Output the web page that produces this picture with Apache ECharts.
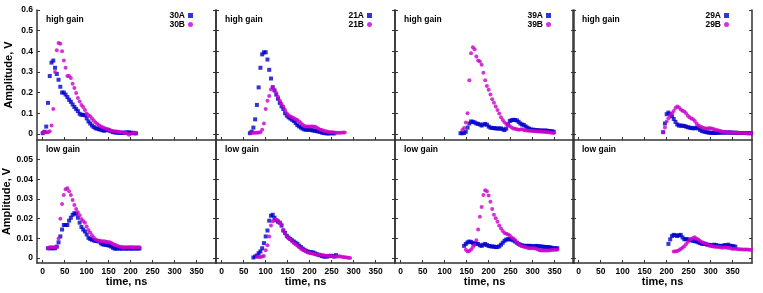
<!DOCTYPE html>
<html><head><meta charset="utf-8">
<script src="https://cdn.jsdelivr.net/npm/echarts@6/dist/echarts.min.js"></script>
<style>html,body{margin:0;padding:0;background:#fff}#c{width:763px;height:293px}</style>
</head><body><div id="c"></div>
<script>
// ---- tick labels ----
const xTicks = [0,50,100,150,200,250,300,350];
const yTicksHi = [0,0.1,0.2,0.3,0.4,0.5,0.6];
const yTicksLo = [0,0.01,0.02,0.03,0.04,0.05];
const channels = [['30A','30B'],['21A','21B'],['39A','39B'],['29A','29B']];

// ---- sample times (ns) ----
const T_0_212 = [0,4,8,12,16,20,24,28,32,36,40,44,48,52,56,60,64,68,72,76,80,84,88,92,96,100,104,108,112,116,120,124,128,132,136,140,144,148,152,156,160,164,168,172,176,180,184,188,192,196,200,204,208,212];
const T_64_256 = [64,68,72,76,80,84,88,92,96,100,104,108,112,116,120,124,128,132,136,140,144,148,152,156,160,164,168,172,176,180,184,188,192,196,200,204,208,212,216,220,224,228,232,236,240,244,248,252,256];
const T_68_280 = [68,72,76,80,84,88,92,96,100,104,108,112,116,120,124,128,132,136,140,144,148,152,156,160,164,168,172,176,180,184,188,192,196,200,204,208,212,216,220,224,228,232,236,240,244,248,252,256,260,264,268,272,276,280];
const T_136_348 = [136,140,144,148,152,156,160,164,168,172,176,180,184,188,192,196,200,204,208,212,216,220,224,228,232,236,240,244,248,252,256,260,264,268,272,276,280,284,288,292,296,300,304,308,312,316,320,324,328,332,336,340,344,348];
const T_140_348 = [140,144,148,152,156,160,164,168,172,176,180,184,188,192,196,200,204,208,212,216,220,224,228,232,236,240,244,248,252,256,260,264,268,272,276,280,284,288,292,296,300,304,308,312,316,320,324,328,332,336,340,344,348];
const T_192_392 = [192,196,200,204,208,212,216,220,224,228,232,236,240,244,248,252,256,260,264,268,272,276,280,284,288,292,296,300,304,308,312,316,320,324,328,332,336,340,344,348,352,356,360,364,368,372,376,380,384,388,392];
const T_12_220 = [12,16,20,24,28,32,36,40,44,48,52,56,60,64,68,72,76,80,84,88,92,96,100,104,108,112,116,120,124,128,132,136,140,144,148,152,156,160,164,168,172,176,180,184,188,192,196,200,204,208,212,216,220];
const T_72_260 = [72,76,80,84,88,92,96,100,104,108,112,116,120,124,128,132,136,140,144,148,152,156,160,164,168,172,176,180,184,188,192,196,200,204,208,212,216,220,224,228,232,236,240,244,248,252,256,260];
const T_80_292 = [80,84,88,92,96,100,104,108,112,116,120,124,128,132,136,140,144,148,152,156,160,164,168,172,176,180,184,188,192,196,200,204,208,212,216,220,224,228,232,236,240,244,248,252,256,260,264,268,272,276,280,284,288,292];
const T_144_356 = [144,148,152,156,160,164,168,172,176,180,184,188,192,196,200,204,208,212,216,220,224,228,232,236,240,244,248,252,256,260,264,268,272,276,280,284,288,292,296,300,304,308,312,316,320,324,328,332,336,340,344,348,352,356];
const T_148_356 = [148,152,156,160,164,168,172,176,180,184,188,192,196,200,204,208,212,216,220,224,228,232,236,240,244,248,252,256,260,264,268,272,276,280,284,288,292,296,300,304,308,312,316,320,324,328,332,336,340,344,348,352,356];
const T_204_356 = [204,208,212,216,220,224,228,232,236,240,244,248,252,256,260,264,268,272,276,280,284,288,292,296,300,304,308,312,316,320,324,328,332,336,340,344,348,352,356];
const T_216_392 = [216,220,224,228,232,236,240,244,248,252,256,260,264,268,272,276,280,284,288,292,296,300,304,308,312,316,320,324,328,332,336,340,344,348,352,356,360,364,368,372,376,380,384,388,392];

// ---- amplitudes (V), high gain ----
const A30_hi = [0.003,0.01,0.035,0.15,0.28,0.345,0.355,0.32,0.29,0.262,0.228,0.2,0.2,0.19,0.178,0.165,0.155,0.142,0.13,0.12,0.11,0.097,0.092,0.092,0.09,0.075,0.06,0.05,0.04,0.033,0.027,0.025,0.022,0.02,0.017,0.015,0.018,0.02,0.015,0.012,0.008,0.007,0.006,0.005,0.005,0.004,0.005,0.006,0.007,0.006,0.006,0.004,0.003,0.002];
const B30_hi = [0.005,0.006,0.007,0.008,0.012,0.04,0.12,0.3,0.405,0.44,0.437,0.4,0.355,0.32,0.28,0.28,0.27,0.243,0.222,0.198,0.174,0.157,0.14,0.13,0.115,0.098,0.09,0.085,0.074,0.064,0.055,0.048,0.041,0.036,0.032,0.028,0.024,0.021,0.018,0.015,0.013,0.012,0.011,0.01,0.008,0.007,0.006,0.005,0.002,-0.004,0.0,0.003,0.006,0.004];
const A21_hi = [0.003,0.01,0.03,0.07,0.14,0.225,0.32,0.385,0.395,0.395,0.36,0.31,0.268,0.226,0.21,0.19,0.17,0.15,0.133,0.12,0.1,0.088,0.08,0.074,0.068,0.062,0.052,0.042,0.036,0.03,0.025,0.021,0.02,0.02,0.02,0.018,0.016,0.015,0.013,0.011,0.009,0.006,0.004,0.003,0.002,0.002,0.003,0.003,0.002];
const B21_hi = [0.004,0.005,0.005,0.005,0.006,0.008,0.02,0.05,0.12,0.16,0.183,0.215,0.225,0.212,0.198,0.18,0.162,0.146,0.132,0.115,0.1,0.09,0.084,0.08,0.075,0.071,0.067,0.06,0.052,0.044,0.038,0.036,0.035,0.035,0.035,0.035,0.034,0.03,0.025,0.02,0.018,0.015,0.013,0.011,0.009,0.008,0.007,0.006,0.005,0.005,0.005,0.005,0.006,0.006];
const A39_hi = [0.003,0.003,0.004,0.01,0.03,0.05,0.06,0.058,0.055,0.05,0.048,0.045,0.04,0.045,0.048,0.044,0.035,0.03,0.028,0.028,0.026,0.026,0.025,0.026,0.022,0.018,0.025,0.045,0.062,0.066,0.068,0.067,0.065,0.058,0.05,0.045,0.043,0.036,0.03,0.025,0.021,0.02,0.019,0.018,0.017,0.016,0.016,0.015,0.016,0.015,0.014,0.013,0.012,0.01];
const B39_hi = [0.019,0.028,0.055,0.1,0.26,0.39,0.42,0.41,0.375,0.355,0.35,0.335,0.296,0.26,0.232,0.213,0.19,0.167,0.15,0.132,0.115,0.098,0.08,0.067,0.056,0.048,0.043,0.038,0.031,0.026,0.024,0.022,0.02,0.021,0.022,0.018,0.016,0.016,0.015,0.015,0.014,0.013,0.012,0.011,0.011,0.01,0.01,0.009,0.008,0.007,0.006,0.005,0.004];
const A29_hi = [0.008,0.05,0.095,0.103,0.095,0.085,0.072,0.058,0.045,0.04,0.04,0.039,0.038,0.035,0.032,0.03,0.028,0.027,0.027,0.03,0.026,0.019,0.014,0.011,0.009,0.007,0.006,0.005,0.004,0.004,0.004,0.005,0.005,0.006,0.006,0.006,0.006,0.006,0.006,0.006,0.005,0.005,0.005,0.004,0.004,0.004,0.004,0.004,0.003,0.003,0.003];
const B29_hi = [0.008,0.03,0.06,0.076,0.09,0.1,0.11,0.125,0.132,0.128,0.118,0.112,0.108,0.1,0.088,0.08,0.074,0.07,0.062,0.05,0.04,0.035,0.032,0.028,0.026,0.026,0.027,0.027,0.024,0.022,0.019,0.017,0.015,0.012,0.01,0.009,0.008,0.007,0.006,0.006,0.005,0.005,0.005,0.004,0.004,0.004,0.004,0.004,0.003,0.003,0.003];

// ---- amplitudes (V), low gain ----
const A30_lo = [0.005,0.005,0.005,0.005,0.005,0.0058,0.008,0.011,0.0145,0.0168,0.0168,0.0168,0.019,0.0205,0.022,0.0228,0.0225,0.0205,0.018,0.0158,0.0145,0.0135,0.012,0.0103,0.0097,0.0093,0.009,0.0087,0.0086,0.0085,0.0075,0.007,0.0068,0.0067,0.0065,0.0063,0.0058,0.0052,0.0048,0.0048,0.005,0.0048,0.0048,0.005,0.0048,0.0048,0.005,0.0048,0.0048,0.005,0.0048,0.005,0.0048];
const B30_lo = [0.005,0.0055,0.0055,0.0055,0.0055,0.0058,0.01,0.02,0.0275,0.032,0.035,0.0355,0.034,0.032,0.0295,0.027,0.025,0.0233,0.0218,0.0198,0.0188,0.018,0.016,0.0143,0.013,0.0116,0.0105,0.0095,0.009,0.0087,0.0086,0.0086,0.0085,0.0083,0.0082,0.008,0.0076,0.0072,0.0068,0.0064,0.006,0.0058,0.0056,0.0055,0.0055,0.0055,0.0055,0.0056,0.0055,0.0055,0.0055,0.0055,0.0055];
const A21_lo = [0.0003,0.0008,0.0013,0.0025,0.0034,0.005,0.0076,0.011,0.014,0.019,0.0215,0.022,0.0205,0.0192,0.0185,0.018,0.0165,0.014,0.0128,0.0113,0.0104,0.0097,0.009,0.0084,0.0078,0.0072,0.0063,0.0056,0.0048,0.0042,0.0037,0.0033,0.003,0.003,0.0028,0.0024,0.002,0.0017,0.0014,0.0011,0.0008,0.0008,0.0008,0.001,0.0012,0.001,0.0008,0.0015];
const B21_lo = [0.0008,0.0006,0.0006,0.0008,0.001,0.004,0.0065,0.011,0.0165,0.0187,0.0194,0.0193,0.019,0.0178,0.017,0.0143,0.0125,0.0108,0.0102,0.0095,0.0085,0.0077,0.007,0.0063,0.0055,0.0048,0.0042,0.0038,0.0033,0.0028,0.0026,0.0024,0.0022,0.0019,0.0018,0.0017,0.0017,0.0016,0.0014,0.0012,0.0012,0.001,0.0011,0.0009,0.0008,0.0008,0.0008,0.0009,0.0007,0.0005,0.0004,0.0003,0.0002,0.0001];
const A39_lo = [0.0062,0.0072,0.008,0.0084,0.0082,0.0076,0.0074,0.0072,0.0072,0.0065,0.0062,0.0068,0.0072,0.0066,0.0062,0.006,0.0059,0.0058,0.0056,0.0056,0.006,0.0068,0.0078,0.0088,0.0094,0.0096,0.0096,0.0094,0.009,0.0084,0.0078,0.0072,0.0068,0.0065,0.0062,0.0062,0.0062,0.0062,0.0062,0.006,0.006,0.0062,0.006,0.006,0.0058,0.0058,0.0056,0.0056,0.0056,0.0054,0.0052,0.005,0.005,0.005];
const B39_lo = [0.0042,0.0034,0.0036,0.0044,0.0056,0.0066,0.009,0.0145,0.021,0.026,0.032,0.0345,0.034,0.0318,0.0286,0.025,0.022,0.0202,0.0185,0.0165,0.015,0.0138,0.0128,0.0123,0.012,0.0115,0.0105,0.0099,0.0092,0.008,0.007,0.0064,0.006,0.0057,0.0055,0.0052,0.005,0.005,0.005,0.005,0.0048,0.0044,0.004,0.0039,0.0039,0.0039,0.0039,0.0039,0.004,0.0041,0.0042,0.0042,0.0042];
const A29_lo = [0.0072,0.0095,0.0112,0.0118,0.0116,0.0112,0.0116,0.0118,0.0105,0.0096,0.0096,0.0095,0.0093,0.009,0.0088,0.0086,0.0084,0.008,0.0076,0.0073,0.0072,0.0072,0.0068,0.0067,0.0066,0.0064,0.0068,0.0066,0.0063,0.0062,0.0062,0.0062,0.0066,0.0064,0.0068,0.0062,0.0062,0.006,0.0058];
const B29_lo = [0.0034,0.0034,0.0036,0.004,0.0046,0.0052,0.006,0.007,0.0082,0.0092,0.0097,0.0102,0.0106,0.0098,0.0094,0.0087,0.0082,0.0078,0.0074,0.007,0.0064,0.0062,0.006,0.0058,0.0057,0.0056,0.0056,0.0054,0.0052,0.0055,0.0052,0.0052,0.0051,0.0048,0.0048,0.0047,0.0046,0.0045,0.0045,0.0044,0.0044,0.0043,0.0043,0.0042,0.0042];

// panel -> [timesA, valuesA, timesB, valuesB]
const hiData = [
  [T_0_212, A30_hi, T_0_212, B30_hi],
  [T_64_256, A21_hi, T_68_280, B21_hi],
  [T_136_348, A39_hi, T_140_348, B39_hi],
  [T_192_392, A29_hi, T_192_392, B29_hi]
];
const loData = [
  [T_12_220, A30_lo, T_12_220, B30_lo],
  [T_72_260, A21_lo, T_80_292, B21_lo],
  [T_144_356, A39_lo, T_148_356, B39_lo],
  [T_204_356, A29_lo, T_216_392, B29_lo]
];

// ---- layout / style ----
const FF = '"Liberation Sans", Arial, Helvetica, sans-serif';
const AX = '#333';
const COLA = '#0000cc', COLB = '#cc00cc';
const colLeft = [37, 216, 395, 573];
const colW = 179;
const rows = [{top:10, h:130, min:-0.03, max:0.6, ticks:yTicksHi, label:'high gain', data:hiData},
              {top:140, h:123, min:-0.0025, max:0.06, ticks:yTicksLo, label:'low gain', data:loData}];

const pairs = (t, v) => v.map((y, i) => [t[i], y]).filter(p => p[0] !== undefined);

const grid = [], xAxis = [], yAxis = [], series = [], title = [], legend = [];
rows.forEach((r, ri) => {
  colLeft.forEach((L, ci) => {
    const gi = grid.length;
    grid.push({left: L, top: r.top, width: colW, height: r.h, show: false});
    const bottom = ri === 1;
    xAxis.push({
      type: 'value', gridIndex: gi, min: -13, max: 394, position: 'bottom',
      axisLine: {show: true, onZero: false, lineStyle: {color: AX, width: 1.5}},
      axisTick: {show: true, inside: true, length: 3, customValues: xTicks, lineStyle: {color: AX, width: 1}},
      axisLabel: {show: bottom, customValues: xTicks, margin: 4, fontSize: 8.5, fontWeight: 'bold', color: '#000', fontFamily: FF},
      splitLine: {show: false},
      name: bottom ? 'time, ns' : '', nameLocation: 'middle', nameGap: 13,
      nameTextStyle: {fontSize: 11, fontWeight: 'bold', color: '#000', fontFamily: FF}
    });
    const yi = yAxis.length;
    yAxis.push({
      type: 'value', gridIndex: gi, min: r.min, max: r.max, position: 'left',
      axisLine: {show: true, onZero: false, lineStyle: {color: AX, width: 1.5}},
      axisTick: {show: true, inside: true, length: 3, customValues: r.ticks, lineStyle: {color: AX, width: 1}},
      axisLabel: {show: ci === 0, customValues: r.ticks, margin: 4, fontSize: 8.5, fontWeight: 'bold', color: '#000', fontFamily: FF},
      splitLine: {show: false},
      name: ci === 0 ? 'Amplitude, V' : '', nameLocation: 'middle', nameGap: 23, nameRotate: 90,
      nameTextStyle: {fontSize: 11, fontWeight: 'bold', color: '#000', fontFamily: FF}
    });
    yAxis.push({
      type: 'value', gridIndex: gi, min: r.min, max: r.max, position: 'right',
      axisLine: {show: true, onZero: false, lineStyle: {color: AX, width: 1.5}},
      axisTick: {show: true, inside: true, length: 3, customValues: r.ticks, lineStyle: {color: AX, width: 1}},
      axisLabel: {show: false}, splitLine: {show: false}
    });
    const d = r.data[ci];
    const [nA, nB] = channels[ci];
    series.push({type: 'scatter', name: nA, xAxisIndex: gi, yAxisIndex: yi, symbol: 'rect', symbolSize: 4,
      itemStyle: {color: COLA}, data: pairs(d[0], d[1]), silent: true, animation: false});
    series.push({type: 'scatter', name: nB, xAxisIndex: gi, yAxisIndex: yi, symbol: 'circle', symbolSize: 4,
      itemStyle: {color: COLB}, data: pairs(d[2], d[3]), silent: true, animation: false});
    title.push({text: r.label, left: L + 9, top: r.top + 5, padding: 0,
      textStyle: {fontSize: 8.5, fontWeight: 'bold', color: '#000', fontFamily: FF}});
    if (ri === 0) {
      legend.push({orient: 'vertical', right: 763 - (L + colW - 23), top: 11, align: 'right',
        itemWidth: 5, itemHeight: 5, itemGap: 0, padding: 0, selectedMode: false,
        textStyle: {fontSize: 8.5, fontWeight: 'bold', color: '#000', fontFamily: FF, lineHeight: 8, padding: [0, -2, 0, 0]},
        data: [{name: nA, icon: 'rect'}, {name: nB, icon: 'circle'}]});
    }
  });
});

const chart = echarts.init(document.getElementById('c'), null, {renderer: 'canvas'});
chart.setOption({animation: false, backgroundColor: '#fff', grid, xAxis, yAxis, series, title, legend});
</script>
</body></html>
